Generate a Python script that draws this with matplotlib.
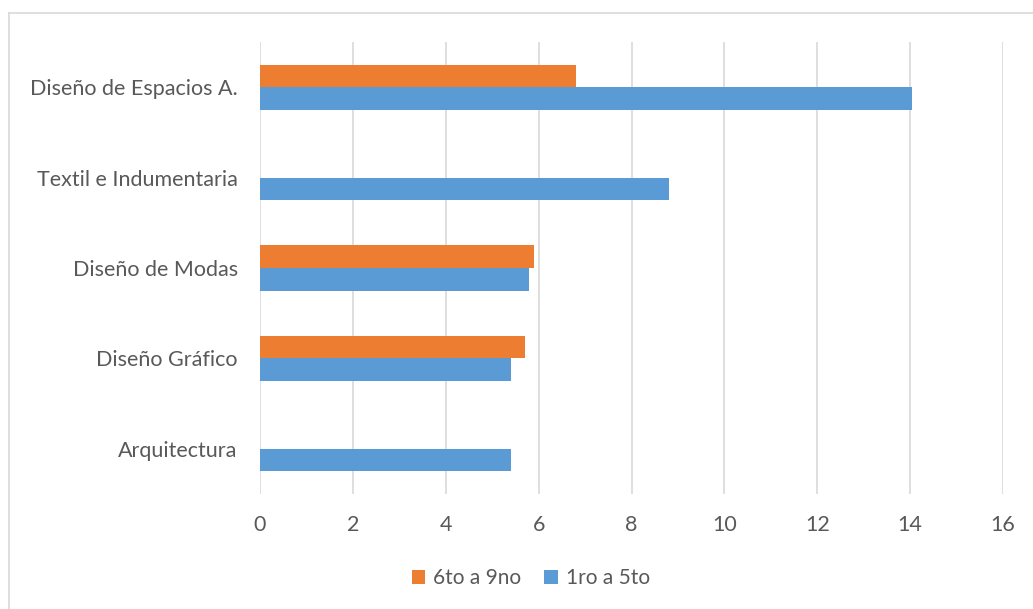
import numpy as np
import matplotlib.pyplot as plt
from matplotlib.lines import Line2D

# data, bottom category first
categorias = ['Arquitectura', 'Diseño Gráfico', 'Diseño de Modas',
              'Textil e Indumentaria', 'Diseño de Espacios A.']
primero_a_quinto = [5.4, 5.4, 5.8, 8.8, 14.05]
sexto_a_noveno = [0, 5.7, 5.9, 0, 6.8]
ticks_x = [0, 2, 4, 6, 8, 10, 12, 14, 16]

plt.rcParams['font.family'] = ['Lato', 'DejaVu Sans']

fig = plt.figure(figsize=(10.33, 6.09), dpi=100)
ax = fig.add_axes([260/1033, 1 - 494/609, (1003 - 260)/1033, (494 - 42)/609])

y = np.arange(len(categorias))
h = 0.25
ax.barh(y - h/2, primero_a_quinto, height=h, color='#5B9BD5', label='1ro a 5to', zorder=3)
ax.barh(y + h/2, sexto_a_noveno, height=h, color='#ED7D31', label='6to a 9no', zorder=3)

ax.set_xlim(0, 16)
ax.set_ylim(-0.5, len(categorias) - 0.5)
ax.set_xticks(ticks_x)
ax.set_yticks(y)
ax.set_yticklabels(categorias)
ax.grid(axis='x', color='#d9d9d9', linewidth=1.2, zorder=0)
ax.tick_params(length=0, labelsize=15.5, labelcolor='#595959')
ax.tick_params(axis='x', pad=15)
ax.tick_params(axis='y', pad=16)
for s in ax.spines.values():
    s.set_visible(False)

handles, labels = ax.get_legend_handles_labels()
leg = fig.legend(handles[::-1], labels[::-1], loc='center', bbox_to_anchor=(0.514, 1 - 578/609),
                 ncol=2, frameon=False, fontsize=15, handlelength=0.65, handleheight=0.65,
                 handletextpad=0.4, columnspacing=1.1)
for t in leg.get_texts():
    t.set_color('#595959')

# outer chart border (top and left visible)
fig.add_artist(Line2D([9/1033, 1.01], [1 - 13/609, 1 - 13/609], color='#d9d9d9', lw=1.2,
                      transform=fig.transFigure))
fig.add_artist(Line2D([9/1033, 9/1033], [-0.01, 1 - 13/609], color='#d9d9d9', lw=1.2,
                      transform=fig.transFigure))

fig.savefig('out.png', dpi=100)
